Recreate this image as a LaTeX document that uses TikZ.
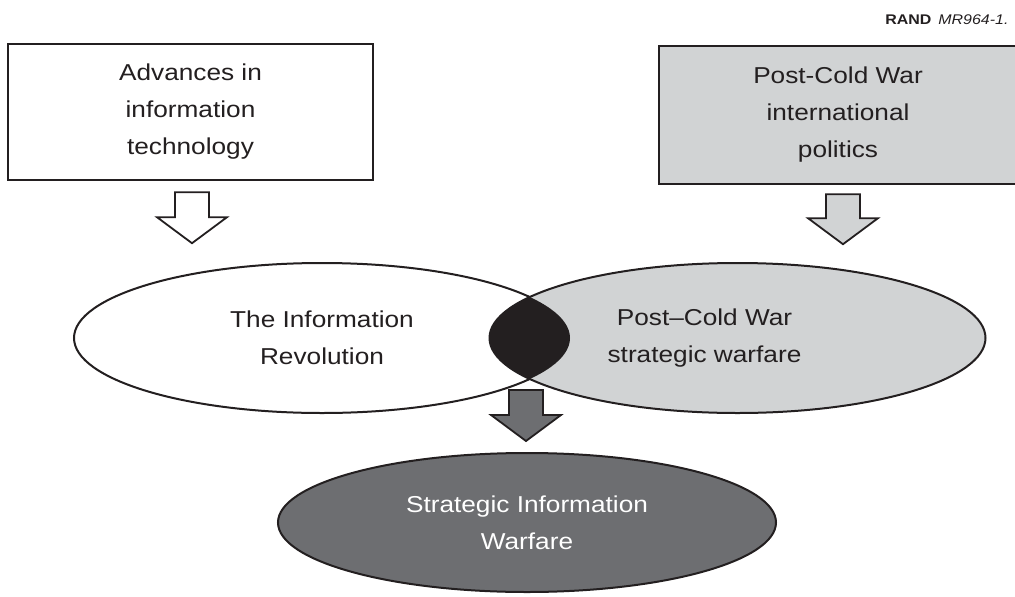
\documentclass[tikz,border=0pt]{standalone}
\usepackage{fontspec}
\setmainfont{Liberation Sans}[FakeStretch=1.14]
\usetikzlibrary{calc,shapes.geometric}
\definecolor{inkblack}{HTML}{231F20}
\definecolor{lightgrey}{HTML}{D1D3D4}
\definecolor{darkgrey}{HTML}{6D6E71}
\tikzset{
  topbox/.style={draw=inkblack, line width=2.4pt, minimum width=365pt, minimum height=136pt,
    inner sep=0pt, align=center, text=inkblack, font=\fontsize{23}{37}\selectfont},
  oval/.style={ellipse, draw=inkblack, line width=2pt, minimum width=496pt, minimum height=150pt,
    inner sep=0pt, align=center, text=inkblack, font=\fontsize{23}{37}\selectfont},
  ovaltext/.style={align=center, text=inkblack, font=\fontsize{23}{37}\selectfont},
  fatarr/.style={draw=inkblack, line width=1.8pt, line join=miter}
}
\def\fatarrow[#1](#2)(#3){\draw[#1] let \p1=(#2), \p2=(#3) in
  (\x1-17pt,\y1) -- (\x1+17pt,\y1) -- (\x1+17pt,\y2+26pt) -- (\x1+35pt,\y2+26pt)
  -- (\x1,\y2) -- (\x1-35pt,\y2+26pt) -- (\x1-17pt,\y2+26pt) -- cycle;}

\begin{document}
\begin{tikzpicture}[x=1pt,y=-1pt]
	\useasboundingbox (0,0) rectangle (1015,597);
	
	\node[anchor=base east, text=inkblack, font=\fontsize{14}{15}\selectfont] (tag) at (1012,24)
		{\textbf{RAND}\enspace\textit{MR964-1.}};
	
	% the two sources
	\node[topbox, fill=white] (adv) at (190.5,112) {Advances in\\information\\technology};
	\node[topbox, fill=lightgrey, minimum width=358pt, minimum height=138pt] (pcw) at (838,115)
		{Post-Cold War\\international\\politics};
	
	% the overlapping ovals
	\node[oval, fill=white] (rev) at (322,338) {The Information\\Revolution};
	\node[oval, fill=lightgrey] (post) at (737.5,338) {};
	\begin{scope}
		\clip (rev.center) ellipse [x radius=248pt, y radius=75pt];
		\fill[inkblack] (post.center) ellipse [x radius=248pt, y radius=75pt];
	\end{scope}
	\node[ovaltext] (posttxt) at ($(post.center)+(-33,0)$) {Post--Cold War\\strategic warfare};
	
	\node[oval, fill=darkgrey, text=white, minimum width=498pt, minimum height=139pt] (siw) at (527,522.5)
		{Strategic Information\\Warfare};
	
	% block arrows
	\coordinate (advout) at ($(adv.south)+(1.5,11)$);
	\coordinate (advtip) at ($(adv.south)+(1.5,62)$);
	\coordinate (pcwout) at ($(pcw.south)+(5,9)$);
	\coordinate (pcwtip) at ($(pcw.south)+(5,59)$);
	\coordinate (siwin) at ($(siw.north)+(-1,-62)$);
	\coordinate (siwtip) at ($(siw.north)+(-1,-11)$);
	\fatarrow[fatarr, fill=white](advout)(advtip)
	\fatarrow[fatarr, fill=lightgrey](pcwout)(pcwtip)
	\fatarrow[fatarr, fill=darkgrey](siwin)(siwtip)
\end{tikzpicture}
\end{document}
